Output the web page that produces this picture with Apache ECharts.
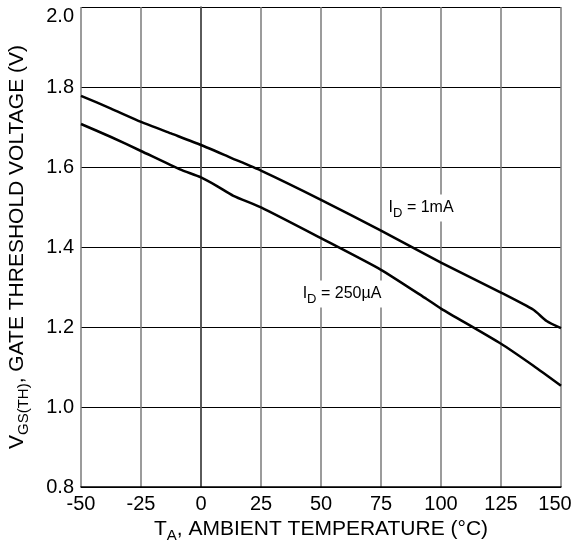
<!DOCTYPE html>
<html>
<head>
<meta charset="utf-8">
<script src="https://cdn.jsdelivr.net/npm/echarts@6/dist/echarts.min.js"></script>
<style>
  html, body { margin: 0; padding: 0; background: #fff; }
  #chart { width: 573px; height: 544px; }
</style>
</head>
<body>
<div id="chart"></div>
<script>
// ID = 1mA
const temp1mA = [-50, -37.5, -25, -12.5, 0, 12.5, 25, 50, 75, 100, 125, 138.5, 144, 150]
const vgs1mA = [1.778, 1.746, 1.713, 1.684, 1.655, 1.623, 1.591, 1.518, 1.441, 1.361, 1.286, 1.243, 1.215, 1.197]

// ID = 250uA
const temp250uA = [-50, -37.5, -25, -8.75, 0, 6.5, 13.5, 25, 50, 75, 94, 100, 125, 138.5, 150]
const vgs250uA = [1.7075, 1.675, 1.64, 1.594, 1.574, 1.553, 1.528, 1.499, 1.422, 1.343, 1.27, 1.246, 1.158, 1.103, 1.053]

// curve labels [temp, vgs]
const label1mA = [91.7, 1.4975]
const label250uA = [58.75, 1.2825]

const FONT = 'Liberation Sans, Arial, sans-serif'

function pairs(xs, ys) {
  return xs.map((x, i) => [x, ys[i]])
}

// rich styles: main text + subscript
function richText(size, subSize, drop) {
  return {
    m: { fontSize: size, fontFamily: FONT, color: '#000' },
    s: { fontSize: subSize, fontFamily: FONT, color: '#000', padding: [drop, 0, 0, 0] }
  }
}

function curveLabel(coord, text) {
  return {
    symbol: 'rect',
    symbolSize: 0,
    silent: true,
    data: [{ coord: coord }],
    label: {
      show: true,
      position: 'inside',
      formatter: '{m|I}{s|D}{m| = ' + text + '}',
      backgroundColor: '#fff',
      padding: [2, 2],
      rich: richText(16, 13, 10)
    }
  }
}

const chart = echarts.init(document.getElementById('chart'))

chart.setOption({
  animation: false,
  grid: { left: 81, right: 12, top: 7, bottom: 57, outerBoundsMode: 'none', containLabel: false },
  xAxis: {
    type: 'value',
    min: -50,
    max: 150,
    interval: 25,
    name: '{m|T}{s|A}{m|, AMBIENT TEMPERATURE (°C)}',
    nameLocation: 'middle',
    nameGap: 28,
    nameTextStyle: { rich: richText(21, 15, 12) },
    axisLine: { lineStyle: { color: '#000', width: 1.5 } },
    axisTick: { show: false },
    axisLabel: {
      fontSize: 20,
      fontFamily: FONT,
      color: '#000',
      margin: 7,
      formatter: (v) => (v === 150 ? '{r|150}' : String(v)),
      rich: { r: { fontSize: 20, fontFamily: FONT, color: '#000', padding: [0, 12, 0, 0] } }
    },
    splitLine: { show: true, lineStyle: { color: '#7a7a7a', width: 1.5 } }
  },
  yAxis: {
    type: 'value',
    min: 0.8,
    max: 2.0,
    interval: 0.2,
    name: '{m|V}{s|GS(TH)}{m|, GATE THRESHOLD VOLTAGE (V)}',
    nameLocation: 'middle',
    nameRotate: 90,
    nameGap: 50,
    nameTextStyle: { rich: richText(21, 15, 12) },
    axisLine: { show: true, lineStyle: { color: '#444', width: 1.5 } },
    axisTick: { show: false },
    axisLabel: {
      fontSize: 20,
      fontFamily: FONT,
      color: '#000',
      margin: 7,
      formatter: (v) => (Math.abs(v - 2.0) < 1e-6 ? '{t|2.0}' : v.toFixed(1)),
      rich: { t: { fontSize: 20, fontFamily: FONT, color: '#000', padding: [18, 0, 0, 0] } }
    },
    splitLine: { show: true, lineStyle: { color: '#000', width: 1 } }
  },
  series: [
    {
      name: 'ID = 1mA',
      type: 'line',
      data: pairs(temp1mA, vgs1mA),
      showSymbol: false,
      smooth: 0.2,
      lineStyle: { color: '#000', width: 2.5 },
      markPoint: curveLabel(label1mA, '1mA')
    },
    {
      name: 'ID = 250µA',
      type: 'line',
      data: pairs(temp250uA, vgs250uA),
      showSymbol: false,
      smooth: 0.2,
      lineStyle: { color: '#000', width: 2.5 },
      markPoint: curveLabel(label250uA, '250µA')
    }
  ]
})
</script>
</body>
</html>
